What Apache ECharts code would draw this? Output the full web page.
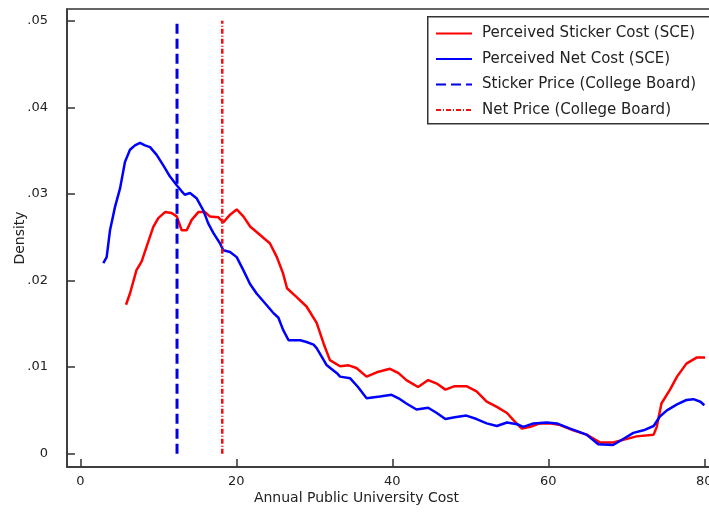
<!DOCTYPE html>
<html>
<head>
<meta charset="utf-8">
<script src="https://cdn.jsdelivr.net/npm/echarts@6/dist/echarts.min.js"></script>
<style>html,body{margin:0;padding:0;background:#fff}#c{width:709px;height:513px}</style>
</head>
<body>
<div id="c"></div>
<script>
// Perceived Sticker Cost (SCE) density
const stickerX = [5.86,6.37,7.2,7.87,8.5,9.36,10.0,10.86,11.7,12.36,13.0,13.64,14.28,15.13,16.0,16.6,17.7,18.33,19.2,20.05,20.9,21.8,22.6,23.5,24.3,25.2,26.0,26.5,27.7,29.0,30.3,31.2,32.0,33.3,34.4,35.4,36.7,38.0,39.7,40.8,41.8,43.3,44.6,45.7,46.8,48.0,49.5,50.8,52.1,53.4,54.7,55.7,56.6,57.7,58.9,60.2,61.5,63.2,64.9,66.6,68.3,69.6,71.3,73.5,73.9,74.5,75.6,76.5,77.7,79.0,80.1];
const stickerY = [.0172,.0185,.0212,.0222,.0239,.0262,.0272,.0279,.0278,.0274,.0258,.0258,.0270,.0279,.0279,.0274,.0273,.0267,.0276,.0282,.0274,.0262,.0256,.0249,.0243,.0227,.0208,.0191,.0181,.0170,.0151,.0127,.0108,.0101,.0102,.0099,.0089,.0094,.0098,.0093,.0085,.0077,.0085,.0081,.0074,.0078,.0078,.0072,.0060,.0054,.0047,.0037,.0029,.0031,.0035,.0035,.0033,.0027,.0022,.0013,.0013,.0016,.0020,.0022,.0031,.0058,.0074,.0089,.0104,.0111,.0111];
// Perceived Net Cost (SCE) density
const netX = [2.95,3.38,3.81,4.45,5.09,5.73,6.37,7.01,7.65,8.29,8.94,9.79,10.64,11.5,12.36,13.0,13.4,14.06,14.9,15.77,16.4,17.05,17.9,18.33,19.2,20.05,20.9,21.76,22.6,23.46,24.7,25.4,26.0,26.7,28.2,29.0,29.9,30.3,31.6,32.9,33.3,34.6,35.6,36.7,38.4,39.9,40.8,41.8,43.1,44.6,45.7,46.8,48.0,49.5,50.8,52.1,53.4,54.7,56.0,56.8,58.1,59.8,61.1,62.8,64.9,66.4,68.3,69.6,70.9,72.2,73.5,74.3,75.2,76.5,77.7,78.6,79.5,80.0];
const netY = [.0220,.0227,.0258,.0285,.0306,.0337,.0351,.0356,.0359,.0356,.0354,.0345,.0333,.0320,.0310,.0303,.0299,.0301,.0295,.0281,.0266,.0255,.0243,.0235,.0233,.0227,.0212,.0196,.0185,.0176,.0163,.0157,.0143,.0131,.0131,.0129,.0126,.0122,.0102,.0093,.0089,.0087,.0077,.0064,.0066,.0068,.0064,.0058,.0051,.0053,.0047,.0040,.0042,.0044,.0040,.0035,.0032,.0036,.0034,.0031,.0035,.0036,.0035,.0029,.0022,.0011,.0010,.0017,.0024,.0027,.0032,.0043,.0050,.0057,.0062,.0063,.0060,.0056];
// College Board reference values
const cbStickerPrice = 12.4;
const cbNetPrice = 18.2;
const refLineSpan = [0, 0.05];
// Axis ticks
const xTicks = [0, 20, 40, 60, 80];
const yTicks = [0, 0.01, 0.02, 0.03, 0.04, 0.05];
const seriesNames = ['Perceived Sticker Cost (SCE)', 'Perceived Net Cost (SCE)', 'Sticker Price (College Board)', 'Net Price (College Board)'];

const zip = (xs, ys) => xs.map((x, i) => [x, ys[i]]);
const FONT = 'DejaVu Sans';
const AX = '#333';

const chart = echarts.init(document.getElementById('c'), null, {renderer: 'canvas'});
chart.setOption({
  animation: false,
  backgroundColor: '#fff',
  textStyle: {fontFamily: FONT},
  grid: {left: 67, top: 9, width: 652, height: 458, outerBoundsMode: 'none', containLabel: false,
    show: true, borderColor: AX, borderWidth: 1.5, backgroundColor: 'transparent'},
  graphic: [{
    type: 'rect', left: 427, top: 16, z: 3,
    shape: {width: 320, height: 107},
    style: {fill: '#fff', stroke: AX, lineWidth: 1.5}
  }],
  legend: {
    data: seriesNames,
    orient: 'vertical',
    left: 427, top: 16, z: 4,
    itemWidth: 36, itemHeight: 14, itemGap: 10.5,
    padding: [10, 10, 10, 8],
    itemStyle: {opacity: 0},
    textStyle: {fontFamily: FONT, fontSize: 15, color: '#222', padding: [0, 0, 0, 5]},
    selectedMode: false
  },
  xAxis: {
    type: 'value', min: -1.705, max: 81.88,
    splitLine: {show: false},
    axisLine: {show: true, onZero: false, lineStyle: {color: AX, width: 1.5}},
    axisTick: {show: true, inside: true, length: 8, customValues: xTicks, lineStyle: {color: AX, width: 1.5}},
    axisLabel: {customValues: xTicks, fontSize: 13, color: '#222', margin: 8, fontFamily: FONT},
    name: 'Annual Public University Cost', nameLocation: 'middle', nameGap: 24, nameMoveOverlap: false,
    nameTextStyle: {fontSize: 14, color: '#222', fontFamily: FONT, padding: [0, 73, 0, 0]}
  },
  yAxis: {
    type: 'value', min: -0.001536, max: 0.05135,
    splitLine: {show: false},
    axisLine: {show: true, onZero: false, lineStyle: {color: AX, width: 1.5}},
    axisTick: {show: true, inside: true, length: 8, customValues: yTicks, lineStyle: {color: AX, width: 1.5}},
    axisLabel: {customValues: yTicks, fontSize: 13, color: '#222', margin: 19, fontFamily: FONT,
      formatter: v => v === 0 ? '0' : String(Math.round(v * 100) / 100).replace(/^0/, '')},
    name: 'Density', nameLocation: 'middle', nameGap: 40, nameRotate: 90, nameMoveOverlap: false,
    nameTextStyle: {fontSize: 14, color: '#222', fontFamily: FONT}
  },
  series: [
    {name: seriesNames[0], type: 'line', data: zip(stickerX, stickerY), showSymbol: false, symbol: 'none',
     lineStyle: {color: '#ff0000', width: 2.5}, itemStyle: {color: '#ff0000'}},
    {name: seriesNames[1], type: 'line', data: zip(netX, netY), showSymbol: false, symbol: 'none',
     lineStyle: {color: '#0000ff', width: 2.5}, itemStyle: {color: '#0000ff'}},
    {name: seriesNames[2], type: 'line', data: refLineSpan.map(y => [cbStickerPrice, y]), showSymbol: false, symbol: 'none',
     lineStyle: {color: '#0000e0', width: 3, type: [10, 5]}, itemStyle: {color: '#0000e0'}},
    {name: seriesNames[3], type: 'line', data: refLineSpan.map(y => [cbNetPrice, y]), showSymbol: false, symbol: 'none',
     lineStyle: {color: '#ee1111', width: 2.5, type: [5, 2, 1, 2]}, itemStyle: {color: '#ee1111'}}
  ]
});
</script>
</body>
</html>
